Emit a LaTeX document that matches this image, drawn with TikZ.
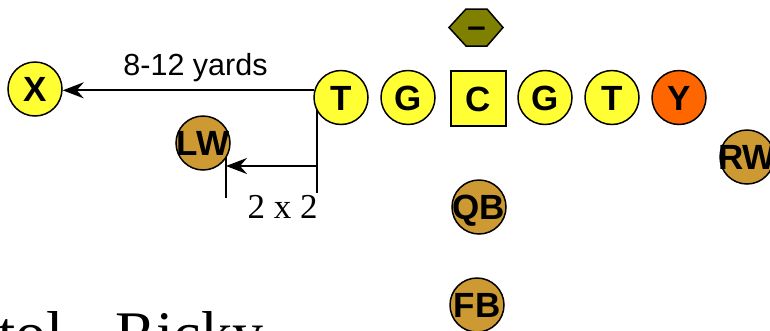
\documentclass[tikz,border=0pt]{standalone}
\usepackage{fontspec}
\setmainfont{Liberation Serif}
\newfontfamily\arialf{Liberation Sans}
\usetikzlibrary{arrows.meta,backgrounds}
\definecolor{pyellow}{HTML}{FFFF33}
\definecolor{pgold}{HTML}{CC9933}
\definecolor{porange}{HTML}{FF6600}
\definecolor{polive}{HTML}{808000}
\newcommand{\zw}[1]{\makebox[0pt]{#1}}
\tikzset{
  player/.style={circle,draw=black,line width=1.5pt,minimum size=54pt,inner sep=0pt,
    font=\arialf\bfseries\fontsize{35}{38}\selectfont,text height=25pt,text depth=0pt},
  lineman/.style={player,fill=pyellow},
  back/.style={player,fill=pgold},
  centerbox/.style={rectangle,draw=black,line width=1.5pt,minimum size=55pt,inner sep=0pt,fill=pyellow,
    font=\arialf\bfseries\fontsize{35}{38}\selectfont,text height=25pt,text depth=0pt},
  conn/.style={line width=2pt,draw=black},
  arr/.style={conn,-{Stealth[length=21pt,width=16pt,inset=7pt]}},
}
\begin{document}
\begin{tikzpicture}[x=1pt,y=-1pt]
\clip (0,0) rectangle (770,330);
% defender hexagon
\filldraw[fill=polive,draw=black,line width=1.5pt]
  (449,27.5) -- (466,9) -- (487,9) -- (503,27.5) -- (487,46) -- (466,46) -- cycle;
\node[font=\arialf\bfseries\fontsize{33}{36}\selectfont,inner sep=0pt,anchor=base] (D) at (476.5,37) {–};
% players
\node[lineman] (X) at (35,89) {\zw{X}};
\node[lineman] (TL) at (341,97.5) {\zw{T}};
\node[lineman] (GL) at (408,97.5) {\zw{G}};
\node[centerbox] (C) at (478.5,98.5) {\zw{C}};
\node[lineman] (GR) at (545,97.5) {\zw{G}};
\node[lineman] (TR) at (612,97.5) {\zw{T}};
\node[player,fill=porange] (Y) at (679,97.5) {\zw{Y}};
\node[back] (LW) at (203,143) {\zw{LW}};
\node[back] (RW) at (747,157) {\zw{RW}};
\node[back] (QB) at (479,207) {\zw{QB}};
\node[back] (FB) at (477,305) {\zw{FB}};
% coordinates for the route
\coordinate (corner) at (317,90);
\coordinate (vbot) at (317,193);
\coordinate (astart) at (317,166);
\coordinate (aend) at (226,166);
\coordinate (ttop) at (226,150);
\coordinate (tbot) at (226,198);
\begin{scope}[on background layer]
\fill[white] (0,0) rectangle (770,330);
\draw[conn] (corner) -- (vbot);
\draw[conn] (ttop) -- (tbot);
\end{scope}
\draw[arr] (TL.165) -- (TL.165 -| X.east);
\draw[arr] (astart) -- (aend);
% labels
\node[font=\arialf\fontsize{30.5}{34}\selectfont,inner sep=0pt,anchor=base] (L1) at (195.5,75) {8-12 yards};
\node[font=\fontsize{35}{40}\selectfont,inner sep=0pt,anchor=base] (L2) at (282.5,218) {2 x 2};
\node[font=\fontsize{62}{70}\selectfont,inner sep=0pt,anchor=base west] (L3) at (-2,354) {tol - Ricky};
\end{tikzpicture}
\end{document}
